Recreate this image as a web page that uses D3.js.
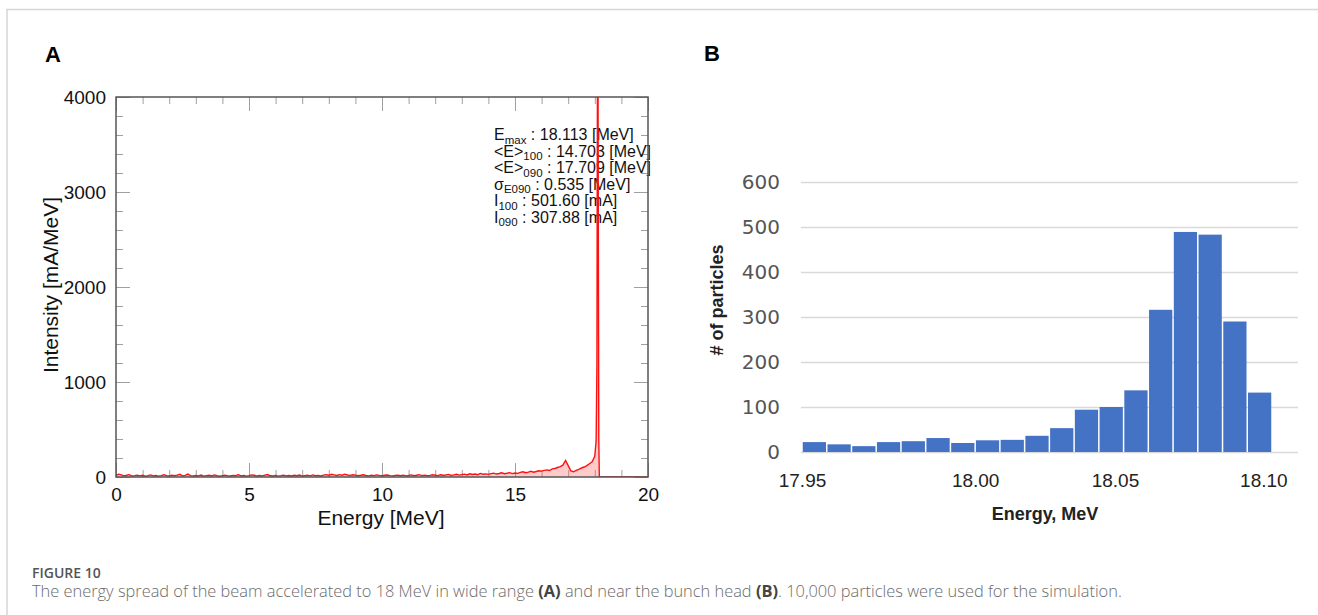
<!DOCTYPE html>
<html>
<head>
<meta charset="utf-8">
<script src="https://cdn.jsdelivr.net/npm/d3@7"></script>
<style>
  body { margin: 0; background: #fff; }
  svg { display: block; }
</style>
</head>
<body>
<svg id="fig" width="1318" height="615"></svg>
<script>
// ---- Panel A: wide-range spectrum, histogram with 0.1 MeV bins from 0 MeV
const specBinStart = 0;
const specBinWidth = 0.1;
const specValues = [
  15, 30, 22, 12, 18, 25, 10, 14, 20, 12,
  18, 8, 14, 22, 12, 16, 9, 15, 24, 13,
  11, 19, 14, 20, 28, 12, 17, 30, 15, 10,
  16, 12, 21, 9, 14, 18, 11, 22, 13, 8,
  15, 20, 12, 10, 17, 13, 24, 11, 16, 9,
  14, 22, 18, 10, 15, 12, 19, 26, 13, 11,
  17, 9, 14, 20, 12, 16, 11, 18, 13, 21,
  10, 15, 19, 12, 22, 14, 17, 11, 20, 25,
  18, 28, 22, 16, 25, 19, 30, 21, 17, 24,
  20, 14, 18, 23, 16, 12, 19, 15, 22, 17,
  13, 18, 21, 15, 11, 17, 20, 14, 19, 12,
  16, 22, 14, 18, 25, 15, 20, 13, 17, 23,
  19, 15, 24, 18, 21, 27, 16, 22, 29, 20,
  25, 30, 22, 34, 27, 31, 24, 38, 29, 33,
  28, 35, 40, 31, 37, 44, 34, 39, 46, 36,
  42, 38, 48, 55, 45, 52, 60, 50, 58, 65,
  62, 70, 75, 68, 85, 90, 100, 110, 125, 175,
  120, 65, 55, 70, 80, 95, 105, 120, 140, 160
];
// the bunch head, read point by point
const headEnergy = [17.95, 18.00, 18.05, 18.08, 18.10, 18.12, 18.15, 18.17, 20];
const headValue = [190, 220, 380, 1200, 4300, 4300, 400, 0, 0];

const aMajorX = [0, 5, 10, 15, 20];
const aMajorY = [0, 1000, 2000, 3000, 4000];

const statMain = ['E', '<E>', '<E>', 'σ', 'I', 'I'];
const statSub = ['max', '100', '090', 'E090', '100', '090'];
const statText = [' : 18.113 [MeV]', ' : 14.703 [MeV]', ' : 17.709 [MeV]',
  ' : 0.535 [MeV]', ' : 501.60 [mA]', ' : 307.88 [mA]'];

// ---- Panel B: histogram near the bunch head
const particleCounts = [22, 17, 13, 22, 24, 31, 20, 26, 27, 36, 53, 94, 100, 137, 316, 489, 483, 290, 132];
const energyTickLabels = ['17.95', '18.00', '18.05', '18.10'];
const energyTickBins = [0, 7, 12.65, 18.65];
const countTicks = [0, 100, 200, 300, 400, 500, 600];

const svg = d3.select('#fig');
const helv = '"Liberation Sans", Arial, Helvetica, sans-serif';

// figure frame (page rule on top and left)
svg.append('path').attr('d', 'M7,615V9.5H1318')
  .attr('fill', 'none').attr('stroke', '#d6d6d6').attr('stroke-width', 1.5);

// panel letters
svg.append('text').attr('x', 45).attr('y', 62).text('A')
  .attr('font-family', helv).attr('font-weight', 'bold').attr('font-size', 22);
svg.append('text').attr('x', 704).attr('y', 61).text('B')
  .attr('font-family', helv).attr('font-weight', 'bold').attr('font-size', 22);

// ================= Panel A =================
const xA = d3.scaleLinear().domain([0, 20]).range([116, 648]);
const yA = d3.scaleLinear().domain([0, 4000]).range([477, 97]);
const gA = svg.append('g');

function inwardTicks(axisFn, scale, values, size, transform) {
  gA.append('g').attr('transform', transform)
    .call(axisFn(scale).tickValues(values).tickSize(size).tickFormat(''))
    .call(g => g.select('.domain').remove())
    .selectAll('line').attr('stroke', '#a0a0a0').attr('stroke-width', 1);
}
const aMinorX = d3.range(0, 21, 1).filter(v => !aMajorX.includes(v));
const aMinorY = d3.range(0, 4001, 200).filter(v => !aMajorY.includes(v));
inwardTicks(d3.axisBottom, xA, aMajorX, -14, 'translate(0,477)');
inwardTicks(d3.axisBottom, xA, aMinorX, -7, 'translate(0,477)');
inwardTicks(d3.axisTop, xA, aMajorX, -14, 'translate(0,97)');
inwardTicks(d3.axisTop, xA, aMinorX, -7, 'translate(0,97)');
inwardTicks(d3.axisLeft, yA, aMajorY, -14, 'translate(116,0)');
inwardTicks(d3.axisLeft, yA, aMinorY, -7, 'translate(116,0)');
inwardTicks(d3.axisRight, yA, aMajorY, -14, 'translate(648,0)');
inwardTicks(d3.axisRight, yA, aMinorY, -7, 'translate(648,0)');

// tick labels
gA.append('g').attr('transform', 'translate(0,477)')
  .call(d3.axisBottom(xA).tickValues(aMajorX).tickFormat(d3.format('d')).tickSize(0).tickPadding(11))
  .call(g => g.select('.domain').remove())
  .selectAll('text').attr('font-family', helv).attr('font-size', 19).attr('fill', '#111');
gA.append('g').attr('transform', 'translate(116,0)')
  .call(d3.axisLeft(yA).tickValues(aMajorY).tickFormat(d3.format('d')).tickSize(0).tickPadding(10))
  .call(g => g.select('.domain').remove())
  .selectAll('text').attr('font-family', helv).attr('font-size', 19).attr('fill', '#111');

// axis titles
gA.append('text').attr('x', 381).attr('y', 525).attr('text-anchor', 'middle')
  .attr('font-family', helv).attr('font-size', 21).attr('fill', '#111').text('Energy [MeV]');
gA.append('text').attr('transform', 'translate(58,285) rotate(-90)').attr('text-anchor', 'middle')
  .attr('font-family', helv).attr('font-size', 21).attr('fill', '#111').text('Intensity [mA/MeV]');

// statistics box text
const stats = gA.append('g').attr('font-family', helv).attr('fill', '#111');
statMain.forEach((m, i) => {
  const t = stats.append('text').attr('x', 494).attr('y', 140 + i * 16.5).attr('font-size', 16);
  t.append('tspan').text(m);
  t.append('tspan').attr('dy', 3.5).attr('font-size', 11.5).text(statSub[i]);
  t.append('tspan').attr('dy', -3.5).text(statText[i]);
});

// spectrum curve
gA.append('clipPath').attr('id', 'clipA').append('rect')
  .attr('x', 116).attr('y', 97).attr('width', 532).attr('height', 380);
const specPoints = specValues.map((v, i) => [specBinStart + i * specBinWidth, v])
  .concat(headEnergy.map((e, i) => [e, headValue[i]]));
const plotA = gA.append('g').attr('clip-path', 'url(#clipA)');
plotA.append('path').datum(specPoints)
  .attr('d', d3.area().x(d => xA(d[0])).y0(yA(0)).y1(d => yA(d[1])))
  .attr('fill', 'rgba(255,80,80,0.3)');
plotA.append('path').datum(specPoints)
  .attr('d', d3.line().x(d => xA(d[0])).y(d => yA(d[1])))
  .attr('fill', 'none').attr('stroke', '#ff1010').attr('stroke-width', 1.4);

// frame
gA.append('rect').attr('x', 116).attr('y', 97).attr('width', 532).attr('height', 380)
  .attr('fill', 'none').attr('stroke', '#555').attr('stroke-width', 1.5);

// ================= Panel B =================
const xB = d3.scaleLinear().domain([0, particleCounts.length]).range([802, 1272]);
const yB = d3.scaleLinear().domain([0, 600]).range([452, 182]);
const gB = svg.append('g');

gB.append('g').attr('transform', 'translate(801,0)')
  .call(d3.axisLeft(yB).tickValues(countTicks).tickSize(-497).tickPadding(21))
  .call(g => g.select('.domain').remove())
  .call(g => g.selectAll('line').attr('stroke', '#d9d9d9').attr('stroke-width', 1.5))
  .selectAll('text').attr('font-family', '"DejaVu Sans", sans-serif').attr('font-size', 20).attr('fill', '#555');

gB.selectAll('rect.bar').data(particleCounts).enter().append('rect')
  .attr('class', 'bar')
  .attr('x', (d, i) => xB(i) + 0.75)
  .attr('width', (d, i) => xB(i + 1) - xB(i) - 1.5)
  .attr('y', d => yB(d))
  .attr('height', d => yB(0) - yB(d))
  .attr('fill', '#4472c4');

gB.append('g').attr('transform', 'translate(0,452)')
  .call(d3.axisBottom(xB).tickValues(energyTickBins).tickFormat((d, i) => energyTickLabels[i])
    .tickSize(0).tickPadding(22))
  .call(g => g.select('.domain').remove())
  .selectAll('text').attr('font-family', helv).attr('font-size', 19).attr('fill', '#222');

gB.append('text').attr('x', 1045).attr('y', 520).attr('text-anchor', 'middle')
  .attr('font-family', helv).attr('font-weight', 'bold').attr('font-size', 18).attr('fill', '#222')
  .text('Energy, MeV');
gB.append('text').attr('transform', 'translate(723,300) rotate(-90)').attr('text-anchor', 'middle')
  .attr('font-family', helv).attr('font-weight', 'bold').attr('font-size', 18).attr('fill', '#222')
  .text('# of particles');

// ================= Caption =================
const capFont = '"Open Sans", "Noto Sans", sans-serif';
svg.append('text').attr('x', 32).attr('y', 578).attr('font-family', capFont)
  .attr('font-weight', 600).attr('font-size', 14).attr('fill', '#555').text('FIGURE 10');
const cap = svg.append('text').attr('x', 32).attr('y', 597).attr('font-family', capFont)
  .attr('font-weight', 300).attr('font-size', 16.4).attr('fill', '#6b6b6b');
cap.append('tspan').text('The energy spread of the beam accelerated to 18 MeV in wide range ');
cap.append('tspan').attr('font-weight', 700).attr('fill', '#444').text('(A)');
cap.append('tspan').text(' and near the bunch head ');
cap.append('tspan').attr('font-weight', 700).attr('fill', '#444').text('(B)');
cap.append('tspan').text('. 10,000 particles were used for the simulation.');
</script>
</body>
</html>
